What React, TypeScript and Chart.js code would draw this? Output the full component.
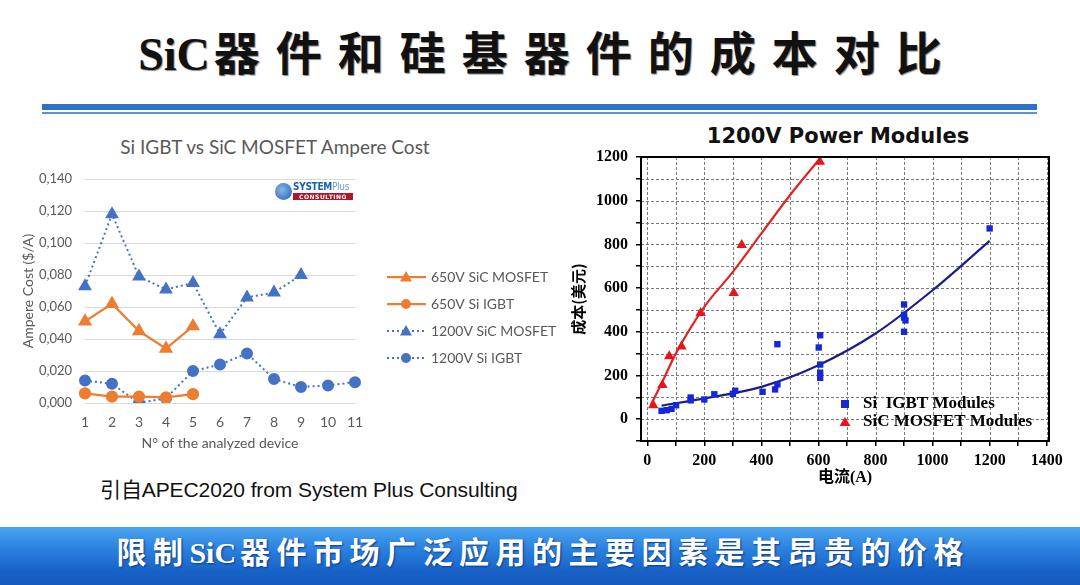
import React, { useEffect, useRef } from 'react';
import { Chart, registerables } from 'chart.js';
Chart.register(...registerables);

// ---------- left chart data ----------
const deviceNumbers = ['1', '2', '3', '4', '5', '6', '7', '8', '9', '10', '11'];
const sic650Cost = [0.051, 0.062, 0.045, 0.034, 0.048, null, null, null, null, null, null];
const igbt650Cost = [0.006, 0.004, 0.004, 0.0035, 0.0055, null, null, null, null, null, null];
const sic1200Cost = [0.073, 0.118, 0.079, 0.071, 0.075, 0.043, 0.066, 0.069, 0.080, null, null];
const igbt1200Cost = [0.014, 0.012, 0.0, 0.003, 0.020, 0.024, 0.031, 0.015, 0.010, 0.011, 0.013];
const ampereTicks = [0, 0.02, 0.04, 0.06, 0.08, 0.1, 0.12, 0.14];
const leftLegendNames = ['650V SiC MOSFET', '650V Si IGBT', '1200V SiC MOSFET', '1200V Si IGBT'];

// ---------- right chart data ----------
const igbtCurrent = [50, 68, 85, 101, 152, 152, 200, 235, 308, 300, 404, 448, 456, 456, 606, 601, 606, 606, 606, 900, 900, 900, 905, 900, 1200];
const igbtCost = [38, 41, 47, 64, 99, 86, 90, 114, 130, 116, 125, 136, 159, 343, 384, 328, 250, 213, 189, 525, 478, 465, 452, 400, 873];
const sicCurrent = [21, 53, 77, 120, 187, 303, 331, 605];
const sicCost = [64, 156, 288, 332, 486, 578, 797, 1178];
const sicFitCurrent = [12, 50, 100, 200, 300, 400, 500, 600];
const sicFitCost = [64, 163, 300, 514, 674, 850, 1025, 1185];
const igbtFitCurrent = [50, 200, 400, 600, 800, 1000, 1200];
const igbtFitCost = [62, 95, 148, 247, 392, 590, 816];
const currentTicks = [0, 100, 200, 300, 400, 500, 600, 700, 800, 900, 1000, 1100, 1200, 1300, 1400];
const costTicks = [-100, 0, 100, 200, 300, 400, 500, 600, 700, 800, 900, 1000, 1100, 1200];
const rightLegendNames = ['Si  IGBT Modules', 'SiC MOSFET Modules'];

const ORANGE = '#ed7d31';
const BLUE = '#4472c4';

function LeftChart() {
  const ref = useRef<HTMLCanvasElement>(null);
  useEffect(() => {
    const legendPlugin = {
      id: 'leftLegend',
      afterDraw(chart: any) {
        const ctx = chart.ctx;
        const ys = [157, 184, 211, 238];
        ctx.save();
        chart.data.datasets.forEach((ds: any, i: number) => {
          const y = ys[i];
          ctx.strokeStyle = ds.borderColor;
          ctx.lineWidth = ds.borderWidth;
          ctx.setLineDash(ds.borderDash || []);
          ctx.beginPath();
          ctx.moveTo(387, y);
          ctx.lineTo(426, y);
          ctx.stroke();
          ctx.setLineDash([]);
          ctx.fillStyle = ds.borderColor;
          ctx.beginPath();
          if (ds.pointStyle === 'triangle') {
            ctx.moveTo(406, y - 6);
            ctx.lineTo(412, y + 4.5);
            ctx.lineTo(400, y + 4.5);
            ctx.closePath();
          } else {
            ctx.arc(406, y, 5, 0, Math.PI * 2);
          }
          ctx.fill();
          ctx.fillStyle = '#595959';
          ctx.font = '14px Lato';
          ctx.textBaseline = 'middle';
          ctx.fillText(leftLegendNames[i], 431, y);
        });
        ctx.restore();
      },
    };
    const chart = new Chart(ref.current!, {
      type: 'line',
      data: {
        labels: deviceNumbers,
        datasets: [
          { label: leftLegendNames[0], data: sic650Cost, borderColor: ORANGE, backgroundColor: ORANGE, borderWidth: 2.25, pointStyle: 'triangle', pointRadius: 6 },
          { label: leftLegendNames[1], data: igbt650Cost, borderColor: ORANGE, backgroundColor: ORANGE, borderWidth: 2.25, pointStyle: 'circle', pointRadius: 5 },
          { label: leftLegendNames[2], data: sic1200Cost, borderColor: BLUE, backgroundColor: BLUE, borderWidth: 2, borderDash: [2, 3], pointStyle: 'triangle', pointRadius: 6 },
          { label: leftLegendNames[3], data: igbt1200Cost, borderColor: BLUE, backgroundColor: BLUE, borderWidth: 2, borderDash: [2, 3], pointStyle: 'circle', pointRadius: 5 },
        ] as any,
      },
      options: {
        animation: false,
        responsive: true,
        maintainAspectRatio: false,
        layout: { padding: { left: 0, top: 59, right: 205, bottom: 0 } },
        plugins: { legend: { display: false }, tooltip: { enabled: false } },
        elements: { line: { tension: 0 }, point: { borderWidth: 0 } },
        scales: {
          x: {
            offset: false,
            grid: { display: false, drawTicks: false },
            border: { display: false },
            ticks: { color: '#595959', font: { family: 'Lato', size: 14 }, padding: 11, maxRotation: 0 },
            title: { display: true, text: 'N° of the analyzed device', color: '#595959', font: { family: 'Lato', size: 14 }, padding: { top: 0, bottom: 13 } },
            afterFit: (s: any) => { s.height = 62; },
          },
          y: {
            min: 0,
            max: 0.14,
            grid: { color: '#d9d9d9', lineWidth: 1, drawTicks: false },
            border: { display: false },
            afterBuildTicks: (s: any) => { s.ticks = ampereTicks.map((v) => ({ value: v })); },
            ticks: {
              color: '#595959',
              font: { family: 'Lato', size: 13 },
              padding: 13,
              callback: (v: any) => Number(v).toFixed(3).replace('.', ','),
            },
            title: { display: true, text: 'Ampere Cost ($/A)', color: '#595959', font: { family: 'Lato', size: 14 }, padding: { top: 20, bottom: 0 } },
            afterFit: (s: any) => { s.width = 85; },
          },
        },
      } as any,
      plugins: [legendPlugin],
    });
    return () => chart.destroy();
  }, []);
  return (
    <div style={{ position: 'absolute', left: 0, top: 120, width: 560, height: 345 }}>
      <canvas ref={ref} />
    </div>
  );
}

function RightChart() {
  const ref = useRef<HTMLCanvasElement>(null);
  useEffect(() => {
    const gridPlugin = {
      id: 'dashGrid',
      beforeDatasetsDraw(chart: any) {
        const { ctx, chartArea: a, scales } = chart;
        ctx.save();
        ctx.strokeStyle = '#7a7a7a';
        ctx.lineWidth = 1;
        ctx.setLineDash([3, 2]);
        currentTicks.forEach((v) => {
          const x = Math.round(scales.x.getPixelForValue(v)) + 0.5;
          ctx.beginPath();
          ctx.moveTo(x, a.top);
          ctx.lineTo(x, a.bottom);
          ctx.stroke();
        });
        costTicks.forEach((v) => {
          const y = Math.round(scales.y.getPixelForValue(v)) + 0.5;
          ctx.beginPath();
          ctx.moveTo(a.left, y);
          ctx.lineTo(a.right, y);
          ctx.stroke();
        });
        ctx.restore();
      },
    };
    const boxPlugin = {
      id: 'boxAndLegend',
      afterDraw(chart: any) {
        const { ctx, chartArea: a } = chart;
        ctx.save();
        ctx.strokeStyle = '#000';
        ctx.lineWidth = 2;
        ctx.strokeRect(a.left, a.top, a.right - a.left, a.bottom - a.top);
        const items = [
          { y: 284, color: '#1428d8', shape: 'rect' },
          { y: 302, color: '#e8141c', shape: 'triangle' },
        ];
        items.forEach((it, i) => {
          ctx.fillStyle = it.color;
          ctx.beginPath();
          if (it.shape === 'rect') {
            ctx.rect(281, it.y - 4, 8, 8);
          } else {
            ctx.moveTo(285, it.y - 5);
            ctx.lineTo(290.5, it.y + 4);
            ctx.lineTo(279.5, it.y + 4);
            ctx.closePath();
          }
          ctx.fill();
          ctx.fillStyle = '#000';
          ctx.font = 'bold 17px "Liberation Serif"';
          ctx.textBaseline = 'middle';
          ctx.fillText(rightLegendNames[i], 303, it.y);
        });
        ctx.restore();
      },
    };
    const toPts = (xs: number[], ys: number[]) => xs.map((x, i) => ({ x, y: ys[i] }));
    const chart = new Chart(ref.current!, {
      type: 'scatter',
      data: {
        datasets: [
          { label: 'SiC fit', data: toPts(sicFitCurrent, sicFitCost), showLine: true, borderColor: '#e02424', borderWidth: 2.2, pointRadius: 0, cubicInterpolationMode: 'monotone', order: 3 },
          { label: 'IGBT fit', data: toPts(igbtFitCurrent, igbtFitCost), showLine: true, borderColor: '#1c1c8c', borderWidth: 2.2, pointRadius: 0, cubicInterpolationMode: 'monotone', order: 3 },
          { label: rightLegendNames[0], data: toPts(igbtCurrent, igbtCost), pointStyle: 'rect', pointRadius: 4.5, backgroundColor: '#1428d8', borderWidth: 0, order: 1 },
          { label: rightLegendNames[1], data: toPts(sicCurrent, sicCost), pointStyle: 'triangle', pointRadius: 6, backgroundColor: '#e8141c', borderWidth: 0, order: 1 },
        ] as any,
      },
      options: {
        animation: false,
        responsive: true,
        maintainAspectRatio: false,
        layout: { padding: { left: 0, top: 37, right: 31, bottom: 0 } },
        plugins: { legend: { display: false }, tooltip: { enabled: false } },
        scales: {
          x: {
            type: 'linear',
            min: -22,
            max: 1408,
            afterBuildTicks: (s: any) => { s.ticks = currentTicks.map((v) => ({ value: v })); },
            grid: { display: true, drawOnChartArea: false, drawTicks: true, color: '#000', tickColor: '#000', tickLength: 5, tickWidth: 1.5, lineWidth: 1.5 },
            border: { display: false },
            ticks: {
              color: '#000',
              font: { family: 'Liberation Serif', size: 16, weight: 'bold' },
              padding: 5,
              maxRotation: 0,
              autoSkip: false,
              callback: (v: any) => (Number(v) % 200 === 0 ? String(v) : ''),
            },
            title: { display: true, text: '电流(A)', color: '#000', font: { family: '"Liberation Serif", "Noto Sans CJK SC"', size: 16, weight: 'bold' }, padding: { top: 0, bottom: 3 } },
            afterFit: (s: any) => { s.height = 49; },
          },
          y: {
            type: 'linear',
            min: -100,
            max: 1200,
            afterBuildTicks: (s: any) => { s.ticks = costTicks.map((v) => ({ value: v })); },
            grid: { display: true, drawOnChartArea: false, drawTicks: true, color: '#000', tickColor: '#000', tickLength: 5, tickWidth: 1.5, lineWidth: 1.5 },
            border: { display: false },
            ticks: {
              color: '#000',
              font: { family: 'Liberation Serif', size: 16, weight: 'bold' },
              padding: 8,
              autoSkip: false,
              callback: (v: any) => (Number(v) % 200 === 0 && Number(v) >= 0 ? String(v) : ''),
            },
            title: { display: true, text: '成本(美元)', color: '#000', font: { family: '"Noto Sans CJK SC"', size: 15, weight: 'bold' }, padding: { top: 9, bottom: 0 } },
            afterFit: (s: any) => { s.width = 81; },
          },
        },
      } as any,
      plugins: [gridPlugin, boxPlugin],
    });
    return () => chart.destroy();
  }, []);
  return (
    <div style={{ position: 'absolute', left: 560, top: 120, width: 520, height: 370 }}>
      <canvas ref={ref} />
    </div>
  );
}

export default function App() {
  return (
    <div style={{ position: 'fixed', left: 0, top: 0, width: 1080, height: 585, background: '#fff', overflow: 'hidden' }}>
      <div style={{ position: 'absolute', left: 0, top: 24, width: 1080, textAlign: 'center', font: 'bold 46px "Liberation Serif", "Noto Sans CJK SC"', color: '#111', lineHeight: '62px', textShadow: '1px 1px 1px #888', whiteSpace: 'nowrap' }}>
        <span style={{ letterSpacing: 0 }}>SiC</span>
        <span style={{ letterSpacing: 16, marginLeft: 4, marginRight: -16 }}>器件和硅基器件的成本对比</span>
      </div>
      <div style={{ position: 'absolute', left: 42, top: 104, width: 995, height: 6, background: '#2f70cc' }} />
      <div style={{ position: 'absolute', left: 42, top: 112, width: 995, height: 2, background: '#5a92da' }} />

      <div style={{ position: 'absolute', left: 0, top: 134, width: 550, textAlign: 'center', font: '19px Lato', color: '#595959', lineHeight: '26px' }}>
        Si IGBT vs SiC MOSFET Ampere Cost
      </div>
      <LeftChart />
      {/* SYSTEM Plus logo */}
      <div style={{ position: 'absolute', left: 275, top: 183, width: 17, height: 17, borderRadius: '50%', background: 'radial-gradient(circle at 40% 40%, #8ab4e8, #1d5fb0)' }} />
      <div style={{ position: 'absolute', left: 293, top: 181, font: 'bold 10px "DejaVu Sans Condensed", "DejaVu Sans"', color: '#1d5fb0', lineHeight: '12px', letterSpacing: -0.3 }}>
        SYSTEM<span style={{ fontWeight: 'normal', color: '#6a9ad6' }}>Plus</span>
      </div>
      <div style={{ position: 'absolute', left: 293, top: 193, width: 60, height: 7, background: '#b0162a', color: '#fff', font: 'bold 6px "DejaVu Sans"', lineHeight: '7px', textAlign: 'center', letterSpacing: 0.5 }}>
        CONSULTING
      </div>

      <div style={{ position: 'absolute', left: 100, top: 477, font: '21px "Liberation Sans", "Noto Sans CJK SC"', color: '#111', lineHeight: '26px', letterSpacing: -0.1 }}>
        引自APEC2020 from System Plus Consulting
      </div>

      <div style={{ position: 'absolute', left: 560, top: 122, width: 556, textAlign: 'center', font: 'bold 21px "DejaVu Sans"', color: '#111', lineHeight: '28px' }}>
        1200V Power Modules
      </div>
      <RightChart />

      <div style={{ position: 'absolute', left: 0, top: 527, width: 1080, height: 58, background: 'linear-gradient(#4ba5f0 0%, #2a7fde 40%, #1863c8 75%, #1559bf 100%)' }} />
      <div style={{ position: 'absolute', left: 0, top: 533, width: 1080, textAlign: 'center', font: 'bold 30px "Liberation Serif", "Noto Sans CJK SC"', color: '#fff', lineHeight: '40px', textShadow: '1px 1px 2px #0a3a80', whiteSpace: 'nowrap' }}>
        <span style={{ letterSpacing: 6.5 }}>限制</span>
        <span style={{ letterSpacing: 0, marginRight: 4 }}>SiC</span>
        <span style={{ letterSpacing: 6.5, marginRight: -6.5 }}>器件市场广泛应用的主要因素是其昂贵的价格</span>
      </div>
    </div>
  );
}
